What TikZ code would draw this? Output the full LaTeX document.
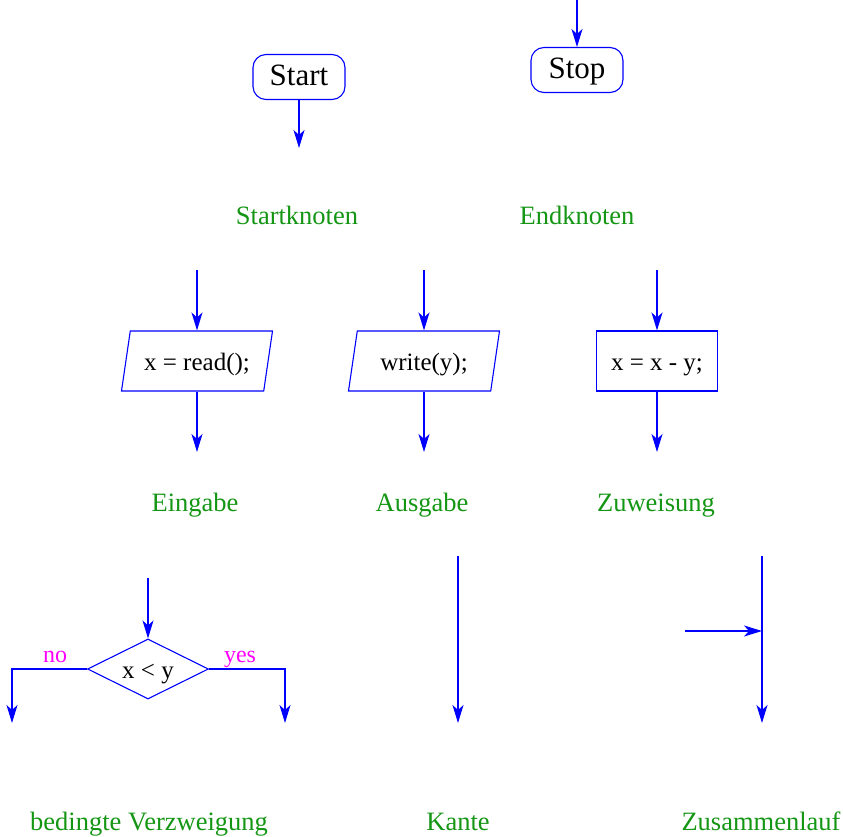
\documentclass[tikz,border=0pt]{standalone}
\usepackage{fontspec}
\setmainfont{Liberation Serif}
\usetikzlibrary{shapes.geometric,arrows.meta,positioning}
\definecolor{labelgreen}{RGB}{20,150,20}
\definecolor{branchpink}{RGB}{255,0,255}
\tikzset{
  flow/.style={draw=blue,line width=1.2pt,-{Stealth[length=18pt,width=11pt,inset=5pt]}},
  terminal/.style={draw=blue,line width=1.1pt,rounded corners=13pt,minimum width=92pt,minimum height=45pt,text height=17pt,text depth=0pt,font=\fontsize{31}{36}\selectfont},
  iobox/.style={draw=blue,line width=1.1pt,trapezium,trapezium left angle=64,trapezium right angle=116,trapezium stretches body,minimum width=151pt,minimum height=60pt,inner sep=0pt,text height=18pt,text depth=0pt,font=\fontsize{25}{30}\selectfont},
  actionbox/.style={draw=blue,line width=1.1pt,minimum width=121pt,minimum height=60pt,inner sep=0pt,text height=18pt,text depth=0pt,font=\fontsize{25}{30}\selectfont},
  decision/.style={draw=blue,line width=1.1pt,diamond,aspect=2,minimum width=121pt,minimum height=60pt,inner sep=0pt,text height=18pt,text depth=0pt,font=\fontsize{25}{30}\selectfont},
  caption/.style={text=labelgreen,text height=18pt,text depth=6pt,font=\fontsize{26.5}{31}\selectfont},
  branchlabel/.style={text=branchpink,text height=16pt,text depth=6pt,font=\fontsize{24}{29}\selectfont}
}
\begin{document}
\begin{tikzpicture}[x=1pt,y=-1pt]
\useasboundingbox (0,0) rectangle (843,837);
% start and stop
\node[terminal] (start) at (299,77) {Start};
\coordinate (startout) at (299,148);
\draw[flow] (start) -- (startout);
\node[terminal] (stop) at (577,70) {Stop};
\coordinate (stopin) at (577,0);
\draw[flow] (stopin) -- (stop);
\node[caption] (startcap) at (297,219) {Startknoten};
\node[caption] (stopcap) at (577,219) {Endknoten};

% input, output, assignment
\node[iobox] (read) at (197,361) {x = read();};
\coordinate (readin) at (197,270);
\coordinate (readout) at (197,452);
\draw[flow] (readin) -- (read);
\draw[flow] (read) -- (readout);
\node[iobox] (write) at (424,361) {write(y);};
\coordinate (writein) at (424,270);
\coordinate (writeout) at (424,452);
\draw[flow] (writein) -- (write);
\draw[flow] (write) -- (writeout);
\node[actionbox] (assign) at (657,361) {x = x - y;};
\coordinate (assignin) at (657,270);
\coordinate (assignout) at (657,452);
\draw[flow] (assignin) -- (assign);
\draw[flow] (assign) -- (assignout);
\node[caption] (readcap) at (195,505) {Eingabe};
\node[caption] (writecap) at (422,505) {Ausgabe};
\node[caption] (assigncap) at (656,505) {Zuweisung};

% branch
\node[decision] (cond) at (148,669) {x < y};
\coordinate (condin) at (148,578);
\coordinate (nofree) at (12,723);
\coordinate (yesfree) at (285,723);
\draw[flow] (condin) -- (cond);
\draw[flow] (cond.west) -| (nofree);
\draw[flow] (cond.east) -| (yesfree);
\node[branchlabel] (nolabel) at (55,657) {no};
\node[branchlabel] (yeslabel) at (240,657) {yes};

% edge
\coordinate (edgetop) at (458,556);
\coordinate (edgebot) at (458,723);
\draw[flow] (edgetop) -- (edgebot);

% join
\coordinate (jointop) at (762,556);
\coordinate (joinbot) at (762,723);
\coordinate (joinin) at (685,631);
\coordinate (joinmeet) at (762,631);
\draw[flow] (jointop) -- (joinbot);
\draw[flow] (joinin) -- (joinmeet);

\node[caption] (condcap) at (149,824) {bedingte Verzweigung};
\node[caption] (edgecap) at (458,824) {Kante};
\node[caption] (joincap) at (761,824) {Zusammenlauf};
\end{tikzpicture}
\end{document}
